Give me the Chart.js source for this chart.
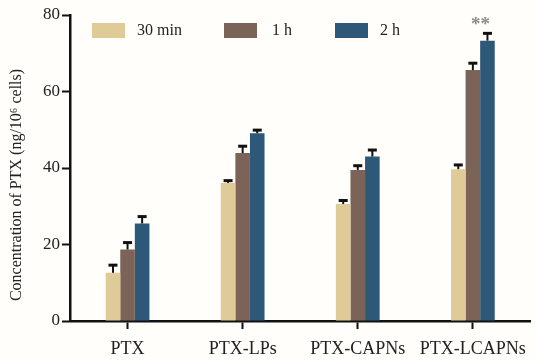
<!DOCTYPE html>
<html><head><meta charset="utf-8">
<script src="https://cdn.jsdelivr.net/npm/chart.js@4/dist/chart.umd.min.js"></script>
<style>html,body{margin:0;padding:0;background:#fffefb}#wrap{width:535px;height:362px}</style>
</head><body><div id="wrap"><canvas id="c" width="535" height="362"></canvas></div>
<script>
const categories = ['PTX', 'PTX-LPs', 'PTX-CAPNs', 'PTX-LCAPNs'];
const seriesNames = ['30 min', '1 h', '2 h'];
const values30 = [12.6, 36.1, 30.6, 39.7];
const err30 = [2.0, 0.6, 0.9, 1.1];
const values1h = [18.7, 43.9, 39.5, 65.6];
const err1h = [1.8, 1.8, 1.1, 1.8];
const values2h = [25.5, 49.1, 43.0, 73.3];
const err2h = [1.8, 0.8, 1.7, 1.9];
const yTicks = [0, 20, 40, 60, 80];
const yTitle = 'Concentration of PTX (ng/10\u2076 cells)';
const sigLabel = '**';

const colors = ['#dfcb98', '#7b6357', '#2d5878'];
const serif = "'Liberation Serif', 'Times New Roman', serif";

const errorBars = {
  id: 'errorBars',
  afterDatasetsDraw(chart) {
    const ctx = chart.ctx, y = chart.scales.y;
    chart.data.datasets.forEach((ds, i) => {
      const meta = chart.getDatasetMeta(i);
      meta.data.forEach((bar, j) => {
        const top = y.getPixelForValue(ds.data[j] + ds.errorValues[j]);
        ctx.save();
        ctx.strokeStyle = '#111';
        ctx.lineWidth = 2;
        ctx.beginPath();
        ctx.moveTo(bar.x, bar.y);
        ctx.lineTo(bar.x, top);
        ctx.stroke();
        ctx.lineWidth = 3;
        ctx.beginPath();
        ctx.moveTo(bar.x - 4.5, top);
        ctx.lineTo(bar.x + 4.5, top);
        ctx.stroke();
        ctx.restore();
      });
    });
    const last = chart.getDatasetMeta(2).data[3];
    const ds = chart.data.datasets[2];
    const topY = y.getPixelForValue(ds.data[3] + ds.errorValues[3]);
    ctx.save();
    ctx.fillStyle = '#8a8a8a';
    ctx.font = "bold 19px " + serif;
    ctx.textAlign = 'center';
    ctx.textBaseline = 'middle';
    ctx.fillText(sigLabel, last.x - 7, topY - 8);
    ctx.restore();
  }
};

const extras = {
  id: 'extras',
  afterDraw(chart) {
    const ctx = chart.ctx;
    const boxX = [92, 224, 335], textX = [137, 272, 380];
    ctx.save();
    ctx.font = "16px " + serif;
    ctx.textBaseline = 'middle';
    seriesNames.forEach((n, i) => {
      ctx.fillStyle = colors[i];
      ctx.fillRect(boxX[i], 23, 33, 15);
      ctx.fillStyle = '#222';
      ctx.fillText(n, textX[i], 31);
    });
    ctx.restore();
    // y-axis title
    ctx.save();
    ctx.translate(17, 185);
    ctx.rotate(-Math.PI / 2);
    ctx.font = "16px " + serif;
    ctx.fillStyle = '#222';
    ctx.textAlign = 'center';
    ctx.textBaseline = 'middle';
    ctx.fillText(yTitle, 0, 0);
    ctx.restore();
  }
};

const bg = {
  id: 'bg',
  beforeDraw(chart) {
    const ctx = chart.ctx;
    ctx.save();
    ctx.fillStyle = '#fffefb';
    ctx.fillRect(0, 0, chart.width, chart.height);
    ctx.restore();
  }
};

new Chart(document.getElementById('c'), {
  type: 'bar',
  data: {
    labels: categories,
    datasets: [
      { label: seriesNames[0], data: values30, errorValues: err30, backgroundColor: colors[0] },
      { label: seriesNames[1], data: values1h, errorValues: err1h, backgroundColor: colors[1] },
      { label: seriesNames[2], data: values2h, errorValues: err2h, backgroundColor: colors[2] }
    ]
  },
  options: {
    responsive: false,
    animation: false,
    devicePixelRatio: 1,
    layout: { padding: { top: 15, right: 1, left: 0, bottom: 0 } },
    datasets: { bar: { barPercentage: 1, categoryPercentage: 0.38 } },
    plugins: { legend: { display: false }, tooltip: { enabled: false } },
    scales: {
      x: {
        grid: { display: true, drawOnChartArea: false, offset: false, tickLength: 8, tickWidth: 2, tickColor: '#111' },
        border: { display: true, color: '#111', width: 2.5 },
        ticks: { color: '#222', font: { family: serif, size: 18 }, padding: 9, maxRotation: 0 },
        afterFit(s) { s.height = 41; }
      },
      y: {
        min: 0, max: 80,
        afterBuildTicks(s) { s.ticks = yTicks.map(v => ({ value: v })); },
        grid: { display: true, drawOnChartArea: false, tickLength: 8, tickWidth: 2, tickColor: '#111' },
        border: { display: true, color: '#111', width: 2.5 },
        ticks: { color: '#222', font: { family: serif, size: 17 }, padding: 2 },
        afterFit(s) { s.width = 70; }
      }
    }
  },
  plugins: [bg, errorBars, extras]
});
</script>
</body></html>
